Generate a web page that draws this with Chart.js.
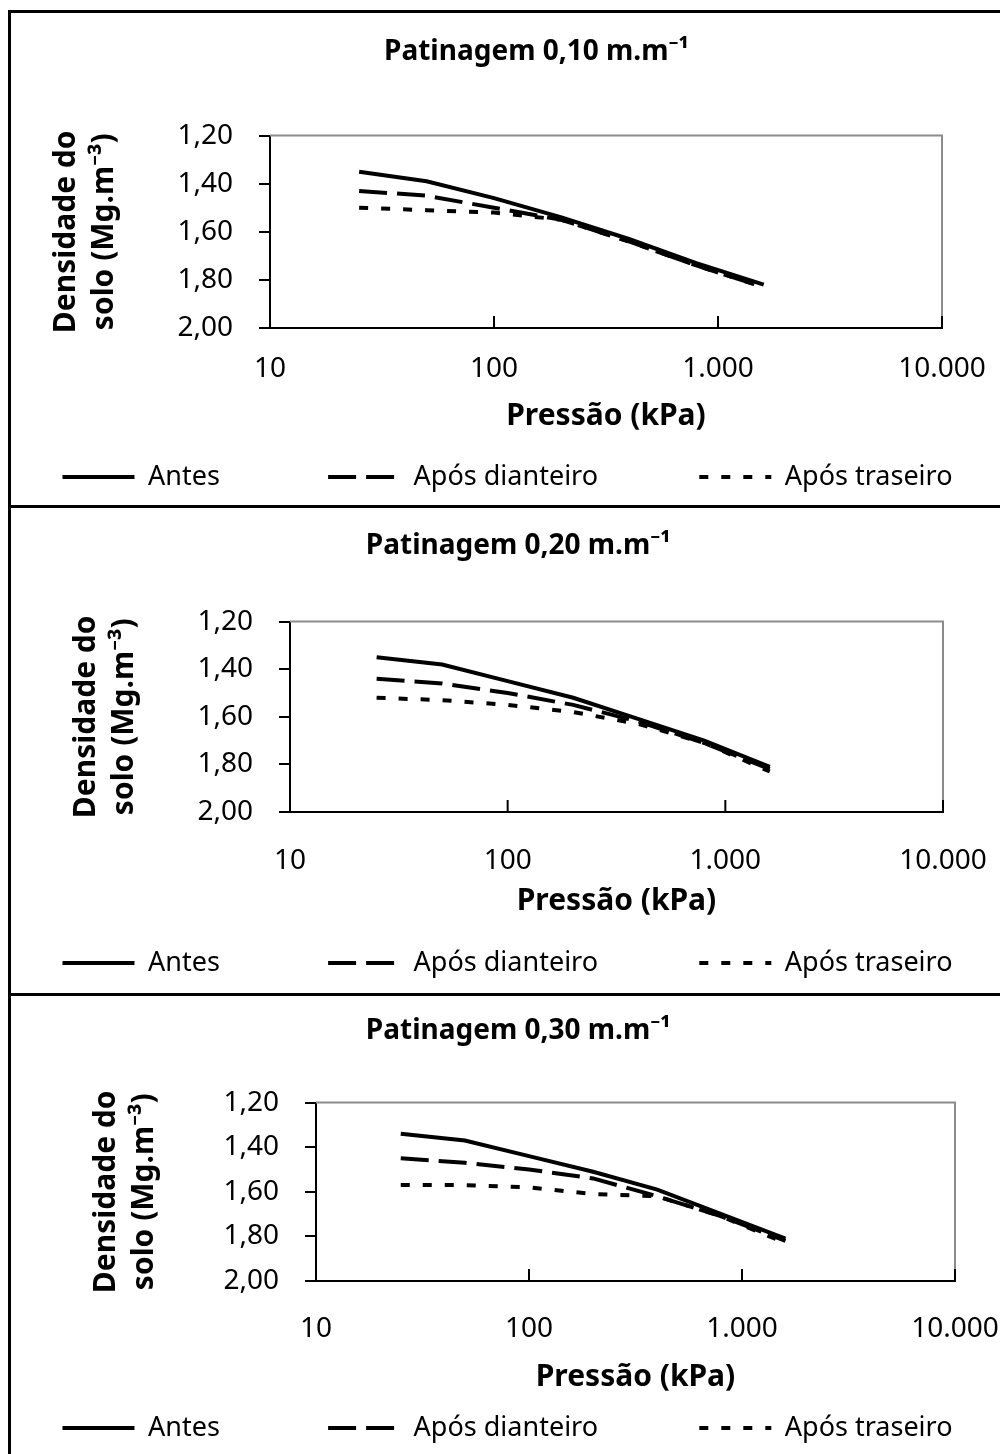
<!DOCTYPE html>
<html>
<head>
<meta charset="utf-8">
<script src="https://cdn.jsdelivr.net/npm/chart.js@4.4.1/dist/chart.umd.min.js"></script>
<style>
  body { margin: 0; background: #fff; width: 1000px; height: 1454px; position: relative; overflow: hidden; }
  canvas { position: absolute; left: 0; }
  .rule { position: absolute; background: #000; }
</style>
</head>
<body>
<canvas id="p1" width="1000" height="492" style="top:13px"></canvas>
<canvas id="p2" width="1000" height="485" style="top:508px"></canvas>
<canvas id="p3" width="1000" height="458" style="top:996px"></canvas>
<div class="rule" style="left:8px;top:10px;width:3px;height:1444px"></div>
<div class="rule" style="left:8px;top:10px;width:992px;height:3px"></div>
<div class="rule" style="left:8px;top:505px;width:992px;height:3px"></div>
<div class="rule" style="left:8px;top:993px;width:992px;height:3px"></div>
<script>
// pressão (kPa) e densidade do solo (Mg.m-3)
const pressao = [25, 50, 100, 200, 400, 800, 1600];
const antes010 = [1.35, 1.39, 1.46, 1.54, 1.63, 1.73, 1.82];
const dianteiro010 = [1.43, 1.45, 1.50, 1.55, 1.64, 1.74, 1.83];
const traseiro010 = [1.50, 1.51, 1.52, 1.55, 1.64, 1.74, 1.83];
const antes020 = [1.35, 1.38, 1.45, 1.52, 1.61, 1.70, 1.81];
const dianteiro020 = [1.44, 1.46, 1.50, 1.55, 1.62, 1.71, 1.82];
const traseiro020 = [1.52, 1.53, 1.55, 1.58, 1.63, 1.71, 1.83];
const antes030 = [1.34, 1.37, 1.44, 1.51, 1.59, 1.70, 1.81];
const dianteiro030 = [1.45, 1.47, 1.50, 1.54, 1.62, 1.71, 1.82];
const traseiro030 = [1.57, 1.57, 1.58, 1.61, 1.62, 1.71, 1.83];

const series = ["Antes", "Após dianteiro", "Após traseiro"];
const titulos = ["Patinagem 0,10 m.m⁻¹", "Patinagem 0,20 m.m⁻¹", "Patinagem 0,30 m.m⁻¹"];
const xTicks = [10, 100, 1000, 10000];
const xTickLabels = ["10", "100", "1.000", "10.000"];
const yTicks = [1.2, 1.4, 1.6, 1.8, 2.0];
const yTickLabels = ["1,20", "1,40", "1,60", "1,80", "2,00"];

const tracos = [[], [28, 10], [9, 13]];
const espessura = 4;
const legendaEspacos = [14, 13, 0];
const fonte = "'Noto Sans', sans-serif";

// posições de cada painel
const layouts = [
  { titleShift: 8, titleTop: 22, titleBottom: 67, xHeight: 125.5, xTickPad: 24, xTitleBottom: 19.5, legendBottom: 4.5, yWidth: 255, yTitlePad: 33, rightWidth: 58 },
  { titleShift: 3, titleTop: 21, titleBottom: 59, xHeight: 127.5, xTickPad: 32, xTitleBottom: 20.5, legendBottom: 6.5, yWidth: 275, yTitlePad: 53, rightWidth: 57 },
  { titleShift: 3, titleTop: 18, titleBottom: 55, xHeight: 123.5, xTickPad: 31, xTitleBottom: 9.5, legendBottom: 2.5, yWidth: 301, yTitlePad: 73, rightWidth: 45 },
];

// moldura cinza em cima/direita e marcas do eixo x para dentro
const moldura = {
  id: "moldura",
  afterDraw(chart) {
    const { ctx, chartArea: a, scales: { x } } = chart;
    ctx.save();
    ctx.lineWidth = 2;
    ctx.strokeStyle = "#8c8c8c";
    ctx.beginPath();
    ctx.moveTo(a.left, a.top);
    ctx.lineTo(a.right, a.top);
    ctx.lineTo(a.right, a.bottom);
    ctx.stroke();
    ctx.strokeStyle = "#000";
    ctx.beginPath();
    x.ticks.forEach((t) => {
      const px = x.getPixelForValue(t.value);
      ctx.moveTo(px, a.bottom);
      ctx.lineTo(px, a.bottom - 12);
    });
    ctx.stroke();
    ctx.restore();
  },
};

function grafico(id, titulo, valores, lay) {
  return new Chart(document.getElementById(id), {
    type: "line",
    data: {
      datasets: valores.map((v, i) => ({
        label: series[i],
        data: pressao.map((p, j) => ({ x: p, y: v[j] })),
        borderColor: "#000",
        backgroundColor: "#000",
        borderWidth: espessura,
        borderDash: tracos[i],
        pointRadius: 0,
        tension: 0,
        fill: false,
      })),
    },
    options: {
      responsive: false,
      animation: false,
      layout: { padding: { left: 15, right: 0, top: 0, bottom: lay.legendBottom } },
      plugins: {
        title: {
          display: true,
          text: "\u00a0".repeat(lay.titleShift) + titulo,
          color: "#000",
          font: { family: fonte, size: 28, weight: "bold", lineHeight: 1.2 },
          padding: { top: lay.titleTop, bottom: lay.titleBottom },
        },
        legend: {
          position: "bottom",
          labels: {
            usePointStyle: true,
            pointStyle: "line",
            pointStyleWidth: 72,
            padding: 10,
            color: "#000",
            font: { family: fonte, size: 27 },
            generateLabels(chart) {
              const items = Chart.defaults.plugins.legend.labels.generateLabels(chart);
              items.forEach((it, i) => {
                it.text = it.text + "\u00a0".repeat(legendaEspacos[i]);
                it.lineDash = tracos[i];
                it.lineWidth = espessura;
                it.strokeStyle = "#000";
              });
              return items;
            },
          },
        },
        tooltip: { enabled: false },
      },
      scales: {
        x: {
          type: "logarithmic",
          position: "bottom",
          min: 10,
          max: 10000,
          afterBuildTicks: (s) => { s.ticks = xTicks.map((v) => ({ value: v })); },
          afterFit: (s) => { s.height = lay.xHeight; },
          grid: { display: false, drawTicks: true, tickLength: lay.xTickPad },
          border: { display: true, color: "#000", width: 2 },
          ticks: {
            autoSkip: false,
            maxRotation: 0,
            padding: 0,
            color: "#000",
            font: { family: fonte, size: 28 },
            callback: (v, i) => xTickLabels[i],
          },
          title: {
            display: true,
            text: "Pressão (kPa)",
            color: "#000",
            font: { family: fonte, size: 30, weight: "bold", lineHeight: 1.2 },
            padding: { top: 0, bottom: lay.xTitleBottom },
          },
        },
        y: {
          position: "left",
          min: 1.2,
          max: 2.0,
          reverse: true,
          afterBuildTicks: (s) => { s.ticks = yTicks.map((v) => ({ value: v })); },
          afterFit: (s) => { s.width = lay.yWidth; },
          grid: { drawOnChartArea: false, drawTicks: true, tickLength: 11, color: "#000", lineWidth: 2 },
          border: { color: "#000", width: 2 },
          ticks: {
            padding: 26,
            color: "#000",
            font: { family: fonte, size: 28 },
            callback: (v, i) => yTickLabels[i],
          },
          title: {
            display: true,
            text: ["Densidade do", "solo (Mg.m⁻³)"],
            color: "#000",
            font: { family: fonte, size: 30, weight: "bold", lineHeight: 1.25 },
            padding: { top: lay.yTitlePad, bottom: 0 },
          },
        },
        y2: {
          position: "right",
          display: true,
          grid: { display: false, drawTicks: false },
          border: { display: false },
          ticks: { display: false },
          afterFit: (s) => { s.width = lay.rightWidth; },
        },
      },
    },
    plugins: [moldura],
  });
}

grafico("p1", titulos[0], [antes010, dianteiro010, traseiro010], layouts[0]);
grafico("p2", titulos[1], [antes020, dianteiro020, traseiro020], layouts[1]);
grafico("p3", titulos[2], [antes030, dianteiro030, traseiro030], layouts[2]);
</script>
</body>
</html>
